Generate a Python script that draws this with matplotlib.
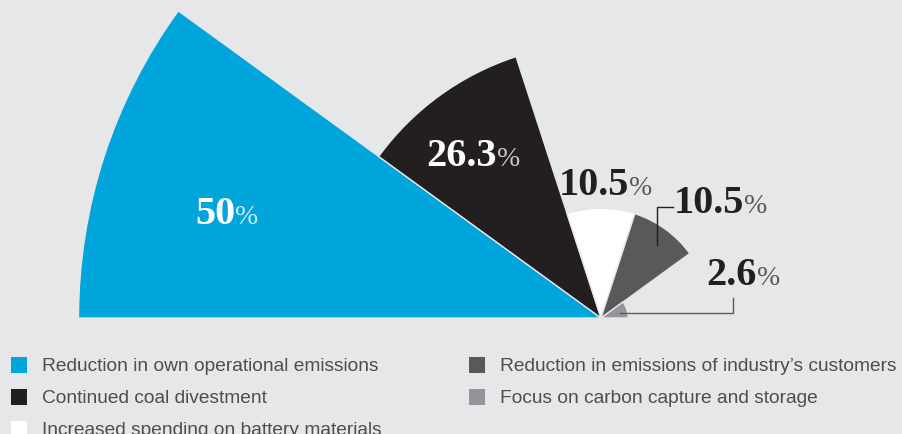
import matplotlib.pyplot as plt
from matplotlib.patches import Wedge, Rectangle

# data
categories = ["Reduction in own operational emissions",
              "Continued coal divestment",
              "Increased spending on battery materials",
              "Reduction in emissions of industry\u2019s customers",
              "Focus on carbon capture and storage"]
values = [50, 26.3, 10.5, 10.5, 2.6]
colors = ["#00a5db", "#231f20", "#ffffff", "#58595b", "#939598"]

bg = "#e6e7e8"
W, H = 902, 434
K = 10.45            # pixels per percentage point of radius
cx, cy = 601, 318    # pole of the rose, in image pixels


def px(x, y):
    # image pixel -> data coords
    return (x - cx) / K, (cy - y) / K


fig = plt.figure(figsize=(W / 100, H / 100), dpi=100, facecolor=bg)
ax = fig.add_axes([0, 0, 1, 1])
ax.set_facecolor(bg)
ax.set_xlim(-cx / K, (W - cx) / K)
ax.set_ylim(-(H - cy) / K, cy / K)
ax.axis("off")

# equal-angle sectors over the upper half, radius = value
step = 180 / len(values)
for i, (v, c) in enumerate(zip(values, colors)):
    t2 = 180 - step * i
    t1 = t2 - step
    ax.add_patch(Wedge((0, 0), v, t1, t2, facecolor=c, edgecolor=bg, linewidth=1.0))

# value labels: (split x, baseline y) in image pixels
label_pos = [(235, 224), (497, 166), (629, 195), (744, 213), (757, 285)]
num_col = ["white", "white", "#231f20", "#231f20", "#231f20"]
pct_col = ["#cfeaf6", "#c8c8c8", "#58595b", "#58595b", "#58595b"]
for v, (x, y), nc, pc in zip(values, label_pos, num_col, pct_col):
    X, Y = px(x, y)
    ax.text(X, Y, f"{v:g}", ha="right", va="baseline", fontsize=29,
            fontweight="bold", family="Liberation Serif", color=nc)
    ax.text(X, Y, "%", ha="left", va="baseline", fontsize=20,
            fontweight="light", family="Liberation Serif", color=pc)

# leader lines
lx, ly = zip(px(656.5, 245), px(656.5, 207), px(673, 207))
ax.plot(lx, ly, color="#231f20", lw=1.0)
lx, ly = zip(px(620, 313), px(733, 313), px(733, 298))
ax.plot(lx, ly, color="#58595b", lw=1.0)

# legend
cols_x = [11, 469]
rows = [(0, 0), (0, 1), (0, 2), (1, 0), (1, 1)]
for cat, c, (col, row) in zip(categories, colors, rows):
    base = 371 + 32 * row
    x0 = cols_x[col]
    fig.patches.append(Rectangle((x0 / W, 1 - (base + 2) / H), 16 / W, 16 / H,
                                 transform=fig.transFigure, facecolor=c,
                                 edgecolor="none"))
    fig.text((x0 + 31) / W, 1 - base / H, cat, ha="left", va="baseline",
             fontsize=13.8, family="Liberation Sans", color="#4d4d4f")

fig.savefig("out.png", dpi=100, facecolor=bg)
